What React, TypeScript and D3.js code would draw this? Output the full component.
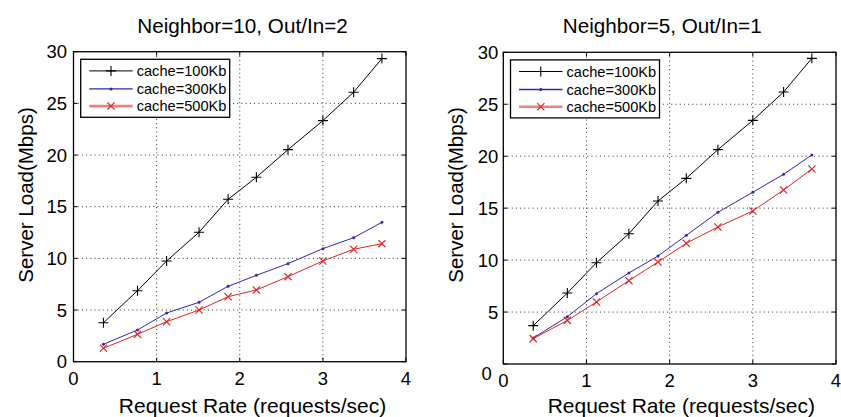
import React from "react";
import * as d3 from "d3";

const requestRates = [0.36, 0.77, 1.12, 1.51, 1.86, 2.2, 2.58, 3.0, 3.37, 3.71];
const xTicks = [0, 1, 2, 3, 4];
const yTicks = [0, 5, 10, 15, 20, 25, 30];
const seriesNames = ["cache=100Kb", "cache=300Kb", "cache=500Kb"];

const leftTitle = "Neighbor=10, Out/In=2";
const left100 = [3.77, 6.87, 9.75, 12.53, 15.72, 17.85, 20.52, 23.33, 26.08, 29.33];
const left300 = [1.68, 3.07, 4.71, 5.75, 7.3, 8.36, 9.49, 10.94, 12.0, 13.49];
const left500 = [1.3, 2.65, 3.87, 5.0, 6.29, 6.94, 8.23, 9.75, 10.88, 11.42];

const rightTitle = "Neighbor=5, Out/In=1";
const right100 = [3.69, 6.83, 9.75, 12.54, 15.69, 17.87, 20.63, 23.45, 26.18, 29.42];
const right300 = [2.5, 4.55, 6.77, 8.76, 10.39, 12.38, 14.6, 16.53, 18.26, 20.12];
const right500 = [2.44, 4.2, 5.97, 8.02, 9.82, 11.62, 13.19, 14.73, 16.75, 18.77];

const xLabel = "Request Rate (requests/sec)";
const yLabel = "Server Load(Mbps)";

const FONT = "'Liberation Sans', Arial, Helvetica, sans-serif";
const COLORS = ["#000000", "#2b2ba8", "#e02424"];
const LEGEND_COLORS = ["#000000", "#2b2ba8", "#f08080"];
const LEGEND_WIDTHS = [1, 1.4, 2.6];
const MARKERS = ["plus", "dot", "x"];

function Marker({ kind, x, y, color }: { kind: string; x: number; y: number; color: string }) {
  if (kind === "plus") {
    const s = 5;
    return (
      <path d={`M${x - s},${y}H${x + s}M${x},${y - s}V${y + s}`} stroke={color} strokeWidth={1.1} fill="none" />
    );
  }
  if (kind === "x") {
    const s = 3.6;
    return (
      <path
        d={`M${x - s},${y - s}L${x + s},${y + s}M${x - s},${y + s}L${x + s},${y - s}`}
        stroke={color}
        strokeWidth={1.2}
        fill="none"
      />
    );
  }
  return <circle cx={x} cy={y} r={1.5} fill={color} />;
}

function Panel({
  left,
  right,
  top,
  bottom,
  title,
  titleX,
  series,
  yLabelX,
  yTickRight,
  zeroLabelShift,
  xLabelX,
}: {
  left: number;
  right: number;
  top: number;
  bottom: number;
  title: string;
  titleX: number;
  series: number[][];
  yLabelX: number;
  yTickRight: number;
  zeroLabelShift: [number, number];
  xLabelX: number;
}) {
  const x = d3.scaleLinear().domain([0, 4]).range([left, right]);
  const y = d3.scaleLinear().domain([0, 30]).range([bottom, top]);
  const line = d3
    .line<[number, number]>()
    .x((d) => x(d[0]))
    .y((d) => y(d[1]));
  const tl = 4;
  const legL = left + 7.2;
  const legT = top + 7.6;
  const legW = 149;
  const legH = 58;
  const rowY = [11.6, 29.6, 46.8];
  return (
    <g>
      {xTicks.slice(1, -1).map((t) => (
        <line key={"gx" + t} x1={x(t)} x2={x(t)} y1={top} y2={bottom} stroke="#333" strokeWidth={1} strokeDasharray="1 3.2" />
      ))}
      {yTicks.slice(1, -1).map((t) => (
        <line key={"gy" + t} x1={left} x2={right} y1={y(t)} y2={y(t)} stroke="#333" strokeWidth={1} strokeDasharray="1 3.2" />
      ))}
      {xTicks.map((t) => (
        <g key={"tx" + t}>
          <line x1={x(t)} x2={x(t)} y1={bottom} y2={bottom - tl} stroke="#000" />
          <line x1={x(t)} x2={x(t)} y1={top} y2={top + tl} stroke="#000" />
        </g>
      ))}
      {yTicks.map((t) => (
        <g key={"ty" + t}>
          <line x1={left} x2={left + tl} y1={y(t)} y2={y(t)} stroke="#000" />
          <line x1={right} x2={right - tl} y1={y(t)} y2={y(t)} stroke="#000" />
        </g>
      ))}
      {series.map((vals, i) => {
        const pts: [number, number][] = requestRates.map((r, j) => [r, vals[j]]);
        return (
          <g key={"s" + i}>
            <path d={line(pts) || ""} fill="none" stroke={COLORS[i]} strokeWidth={1} />
            {pts.map((p, j) => (
              <Marker key={j} kind={MARKERS[i]} x={x(p[0])} y={y(p[1])} color={COLORS[i]} />
            ))}
          </g>
        );
      })}
      <rect x={left} y={top} width={right - left} height={bottom - top} fill="none" stroke="#000" strokeWidth={1.3} />
      {xTicks.map((t) => (
        <text key={"lx" + t} x={x(t)} y={bottom + 23} textAnchor="middle" fontSize={18.5} fontFamily={FONT} fill="#000">
          {t}
        </text>
      ))}
      {yTicks.map((t) => (
        <text
          key={"ly" + t}
          x={yTickRight + (t === 0 ? zeroLabelShift[0] : 0)}
          y={y(t) + 6.5 + (t === 0 ? zeroLabelShift[1] : 0)}
          textAnchor="end"
          fontSize={18.5}
          fontFamily={FONT}
          fill="#000"
        >
          {t}
        </text>
      ))}
      <text x={titleX} y={33.3} textAnchor="middle" fontSize={20.7} fontFamily={FONT} fill="#000">
        {title}
      </text>
      <text x={xLabelX} y={413} textAnchor="middle" fontSize={21} fontFamily={FONT} fill="#000">
        {xLabel}
      </text>
      <text
        transform={`translate(${yLabelX},${195}) rotate(-90)`}
        textAnchor="middle"
        fontSize={20.5}
        fontFamily={FONT}
        fill="#000"
      >
        {yLabel}
      </text>
      <rect x={legL} y={legT} width={legW} height={legH} fill="#fff" stroke="#000" strokeWidth={1.3} />
      {seriesNames.map((name, i) => {
        const ry = legT + rowY[i];
        return (
          <g key={"leg" + i}>
            <line x1={legL + 8.6} x2={legL + 52} y1={ry} y2={ry} stroke={LEGEND_COLORS[i]} strokeWidth={LEGEND_WIDTHS[i]} />
            <Marker kind={MARKERS[i]} x={legL + 30.3} y={ry} color={COLORS[i]} />
            <text x={legL + 56} y={ry + 5.2} fontSize={14.6} fontFamily={FONT} fill="#000">
              {name}
            </text>
          </g>
        );
      })}
    </g>
  );
}

export default function App() {
  return (
    <svg
      width={841}
      height={417}
      viewBox="0 0 841 417"
      style={{ position: "absolute", left: 0, top: 0, background: "#fff" }}
    >
      <rect x={0} y={0} width={841} height={417} fill="#fff" />
      <Panel
        left={73.5}
        right={406}
        top={51.7}
        bottom={361.7}
        title={leftTitle}
        titleX={242.5}
        series={[left100, left300, left500]}
        yLabelX={33}
        yTickRight={67}
        zeroLabelShift={[0, 0]}
        xLabelX={252.5}
      />
      <Panel
        left={503.3}
        right={836}
        top={52.3}
        bottom={364}
        title={rightTitle}
        titleX={662.2}
        series={[right100, right300, right500]}
        yLabelX={463}
        yTickRight={498.3}
        zeroLabelShift={[-6.5, 9.5]}
        xLabelX={681.3}
      />
    </svg>
  );
}
